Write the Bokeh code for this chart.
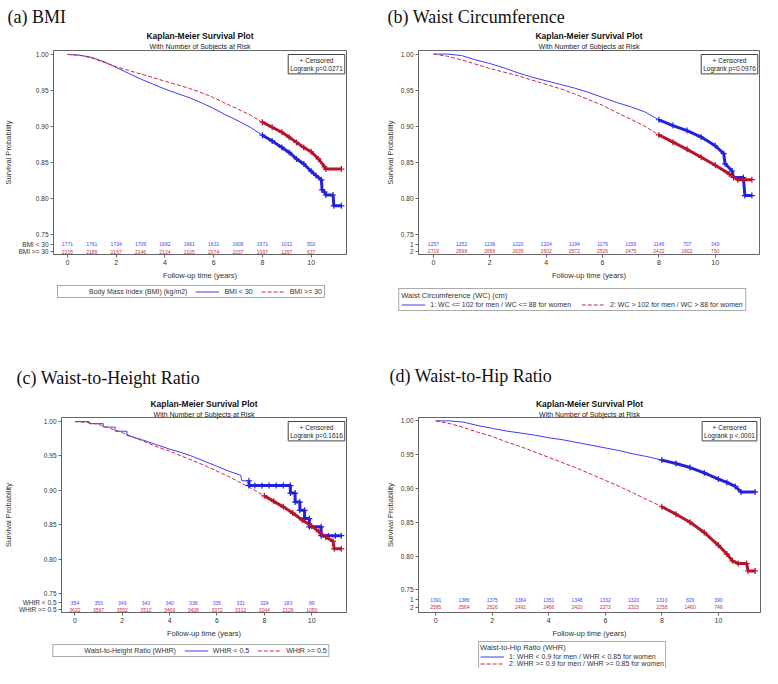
from bokeh.plotting import figure
from bokeh.models import (Range1d, FixedTicker, Title, Label, Legend, LegendItem,
                          NumeralTickFormatter)
from bokeh.layouts import column, row
from bokeh.embed import file_html
from bokeh.resources import INLINE
from bokeh.core.properties import value

# ---------------- data ----------------
years = [0, 1, 2, 3, 4, 5, 6, 7, 8, 9, 10]
x_ticks = [0, 2, 4, 6, 8, 10]
y_ticks = [0.75, 0.80, 0.85, 0.90, 0.95, 1.00]

# (a) BMI
a_t_lo = [0, 0.5, 1.0, 1.5, 2.0, 2.5, 3.0, 3.5, 4.0, 4.5, 5.0, 5.5, 6.0, 6.5, 7.0, 7.5, 8.0, 8.4, 8.8, 9.1,
          9.4, 9.7, 10.0, 10.2, 10.42, 10.45, 10.55, 10.6, 10.9, 10.93, 11.24]
a_s_lo = [1.0, 0.999, 0.996, 0.990, 0.982, 0.974, 0.966, 0.959, 0.952, 0.946, 0.940, 0.933, 0.925, 0.916,
          0.908, 0.899, 0.888, 0.880, 0.871, 0.864, 0.855, 0.848, 0.838, 0.832, 0.826, 0.812, 0.809, 0.805,
          0.805, 0.790, 0.790]
a_t_hi = [0, 0.5, 1.0, 1.5, 2.0, 2.5, 3.0, 3.5, 4.0, 4.5, 5.0, 5.5, 6.0, 6.5, 7.0, 7.5, 8.0, 8.4, 8.8, 9.1,
          9.4, 9.7, 10.0, 10.3, 10.55, 10.6, 11.24]
a_s_hi = [1.0, 0.999, 0.995, 0.989, 0.983, 0.978, 0.973, 0.968, 0.963, 0.958, 0.953, 0.947, 0.940, 0.932,
          0.924, 0.916, 0.906, 0.899, 0.892, 0.885, 0.878, 0.871, 0.865, 0.855, 0.844, 0.841, 0.841]
a_risk_lo = [1771, 1761, 1734, 1709, 1682, 1661, 1631, 1606, 1571, 1012, 502]
a_risk_hi = [2205, 2189, 2167, 2146, 2124, 2105, 2074, 2037, 1997, 1297, 637]

# (b) Waist circumference
b_t_1 = [0, 0.5, 1.0, 1.5, 2.0, 2.5, 3.0, 3.5, 4.0, 4.5, 5.0, 5.5, 6.0, 6.5, 7.0, 7.5, 8.0, 8.5, 9.0, 9.5,
         10.0, 10.3, 10.35, 10.6, 10.65, 11.0, 11.05, 11.3]
b_s_1 = [1.0, 1.0, 0.998, 0.992, 0.987, 0.981, 0.974, 0.968, 0.963, 0.958, 0.953, 0.947, 0.940, 0.933,
         0.927, 0.920, 0.909, 0.901, 0.894, 0.885, 0.873, 0.862, 0.848, 0.838, 0.829, 0.829, 0.804, 0.804]
b_t_2 = [0, 0.5, 1.0, 1.5, 2.0, 2.5, 3.0, 3.5, 4.0, 4.5, 5.0, 5.5, 6.0, 6.5, 7.0, 7.5, 8.0, 8.5, 9.0, 9.5,
         10.0, 10.5, 10.8, 11.3]
b_s_2 = [1.0, 0.997, 0.992, 0.986, 0.980, 0.975, 0.970, 0.964, 0.958, 0.952, 0.945, 0.937, 0.929, 0.919,
         0.910, 0.900, 0.888, 0.878, 0.868, 0.857, 0.846, 0.834, 0.826, 0.826]
b_risk_1 = [1257, 1252, 1236, 1220, 1204, 1194, 1179, 1159, 1146, 707, 349]
b_risk_2 = [2719, 2698, 2666, 2635, 2602, 2572, 2526, 2475, 2422, 1602, 790]

# (c) Waist-to-height ratio
c_t_lo = [0, 0.6, 0.6, 1.2, 1.2, 1.7, 1.7, 2.2, 2.2, 2.8, 3.4, 4.0, 4.5, 5.0, 5.5, 6.0, 6.5, 7.0, 7.05, 7.35,
          7.35, 7.6, 7.9, 8.2, 8.5, 8.8, 9.1, 9.1, 9.3, 9.3, 9.5, 9.5, 9.7, 9.7, 9.9, 9.9, 10.4, 10.4, 10.7,
          11.0, 11.25]
c_s_lo = [1.0, 1.0, 0.997, 0.997, 0.992, 0.992, 0.986, 0.986, 0.980, 0.974, 0.967, 0.960, 0.955, 0.949,
          0.942, 0.935, 0.928, 0.922, 0.914, 0.914, 0.907, 0.907, 0.907, 0.907, 0.907, 0.907, 0.907, 0.896,
          0.896, 0.883, 0.883, 0.871, 0.871, 0.859, 0.859, 0.847, 0.847, 0.834, 0.834, 0.834, 0.834]
c_t_hi = [0, 0.5, 1.0, 1.5, 2.0, 2.5, 3.0, 3.5, 4.0, 4.5, 5.0, 5.5, 6.0, 6.5, 7.0, 7.5, 8.0, 8.4, 8.8, 9.2,
          9.6, 10.0, 10.3, 10.6, 10.9, 10.95, 11.25]
c_s_hi = [1.0, 0.999, 0.996, 0.990, 0.984, 0.977, 0.970, 0.963, 0.957, 0.950, 0.943, 0.936, 0.928, 0.920,
          0.911, 0.902, 0.892, 0.884, 0.876, 0.867, 0.857, 0.848, 0.840, 0.832, 0.826, 0.815, 0.815]
c_risk_lo = [354, 353, 349, 343, 340, 338, 335, 331, 324, 183, 89]
c_risk_hi = [3622, 3597, 3552, 3512, 3466, 3428, 3372, 3312, 3244, 2126, 1050]

# (d) Waist-to-hip ratio
d_t_1 = [0, 0.5, 1.0, 1.5, 2.0, 2.5, 3.0, 3.5, 4.0, 4.5, 5.0, 5.5, 6.0, 6.5, 7.0, 7.5, 8.0, 8.5, 9.0, 9.5,
         10.0, 10.3, 10.6, 10.8, 11.3]
d_s_1 = [1.0, 1.0, 0.998, 0.993, 0.989, 0.985, 0.982, 0.979, 0.975, 0.972, 0.968, 0.964, 0.960, 0.956,
         0.951, 0.947, 0.942, 0.937, 0.931, 0.923, 0.914, 0.909, 0.903, 0.895, 0.895]
d_t_2 = [0, 0.5, 1.0, 1.5, 2.0, 2.5, 3.0, 3.5, 4.0, 4.5, 5.0, 5.5, 6.0, 6.5, 7.0, 7.5, 8.0, 8.5, 9.0, 9.5,
         10.0, 10.3, 10.5, 10.7, 11.0, 11.05, 11.3]
d_s_2 = [1.0, 0.996, 0.990, 0.983, 0.977, 0.969, 0.962, 0.954, 0.946, 0.938, 0.930, 0.921, 0.912, 0.903,
         0.893, 0.883, 0.873, 0.862, 0.850, 0.835, 0.816, 0.803, 0.793, 0.789, 0.789, 0.778, 0.778]
d_risk_1 = [1391, 1386, 1375, 1364, 1351, 1346, 1332, 1320, 1310, 829, 390]
d_risk_2 = [2585, 2564, 2526, 2491, 2466, 2420, 2373, 2323, 2258, 1460, 749]

# ---------------- style ----------------
FONT = "Liberation Sans"
SERIF = "Liberation Serif"
BLUE = "#3c3cff"
BLUE_D = "#2222dd"
RED = "#d0283c"
RED_D = "#b8142c"
BLUE_T = "#4646ff"
RED_T = "#d02c46"
GRAY = "#666666"


def main_fig(cfg):
    p = figure(width=cfg["w"], height=cfg["h"], title=None,
               x_range=Range1d(*cfg["xr"]), y_range=Range1d(*cfg["yr"]),
               toolbar_location=None, output_backend="svg",
               min_border_left=cfg["mb"][0], min_border_right=cfg["mb"][1],
               min_border_top=cfg["mb"][2], min_border_bottom=cfg["mb"][3])
    p.xgrid.visible = False
    p.ygrid.visible = False
    p.outline_line_color = GRAY
    p.background_fill_color = "white"
    p.border_fill_color = "white"

    # titles: first added sits nearest the frame
    p.add_layout(Title(text="With Number of Subjects at Risk", align="center", text_font=FONT,
                       text_font_size="7px", text_font_style="normal", text_color="#222222",
                       standoff=cfg["st"][0]), "above")
    p.add_layout(Title(text="Kaplan-Meier Survival Plot", align="center", text_font=FONT,
                       text_font_size="8.5px", text_font_style="bold", text_color="#111111",
                       standoff=cfg["st"][1]), "above")
    p.add_layout(Title(text=cfg["label"], align="left", offset=cfg["loff"], text_font=SERIF,
                       text_font_size="18px", text_font_style="normal", text_color="#111111",
                       standoff=cfg["st"][2]), "above")

    for ax in (p.xaxis[0], p.yaxis[0]):
        ax.axis_line_color = GRAY
        ax.major_tick_line_color = GRAY
        ax.minor_tick_line_color = None
        ax.major_tick_out = 3
        ax.major_tick_in = 0
        ax.major_label_text_font = FONT
        ax.major_label_text_font_size = "7px"
        ax.major_label_text_color = "#333333"
        ax.major_label_standoff = 2
        ax.axis_label_text_font = FONT
        ax.axis_label_text_font_size = "7.5px"
        ax.axis_label_text_font_style = "normal"
        ax.axis_label_text_color = "#333333"
        ax.axis_label_standoff = 3
    p.yaxis.major_label_text_font_size = "6.5px"
    p.xaxis.ticker = FixedTicker(ticks=x_ticks)
    rows = cfg["rows"]
    p.yaxis.ticker = FixedTicker(ticks=[rows[1], rows[0]] + y_ticks)
    p.yaxis.formatter = NumeralTickFormatter(format="0.00")
    p.yaxis.major_label_overrides = {rows[0]: cfg["names"][0], rows[1]: cfg["names"][1]}
    p.xaxis.axis_label = "Follow-up time (years)"
    p.yaxis.axis_label = "Survival Probability"

    # survival curves
    p.line(cfg["t1"], cfg["s1"], line_color=BLUE, line_width=1)
    p.line(cfg["t2"], cfg["s2"], line_color=RED, line_width=1, line_dash="4 2")
    for t, s, c0, col in ((cfg["t1"], cfg["s1"], cfg["c1"], BLUE_D), (cfg["t2"], cfg["s2"], cfg["c2"], RED_D)):
        tc = [tt for tt in t if tt >= c0]
        sc = [ss for tt, ss in zip(t, s) if tt >= c0]
        p.line(tc, sc, line_color=col, line_width=3)
        p.scatter(tc, sc, marker="cross", size=6, line_color=col, line_width=1.2)

    # numbers at risk
    p.text(x=years, y=[rows[0]] * len(years), text=[str(v) for v in cfg["risk1"]],
           text_font=value(FONT), text_font_size="5px", text_color=BLUE_T,
           text_align="center", text_baseline="middle")
    p.text(x=years, y=[rows[1]] * len(years), text=[str(v) for v in cfg["risk2"]],
           text_font=value(FONT), text_font_size="5px", text_color=RED_T,
           text_align="center", text_baseline="middle")

    # censored / logrank inset
    p.add_layout(Label(x=cfg["xr"][1], y=cfg["yr"][1], x_offset=cfg["boff"], y_offset=-4,
                       text="+ Censored\n" + cfg["logrank"], text_align="center", text_baseline="top",
                       text_font=FONT, text_font_size="6.5px", text_color="#222222",
                       background_fill_color="white", border_line_color="#444444", padding=2))
    return p


def legend_fig(w, h, title, labels, orient, title_inline, spacing, pad, margin):
    f = figure(width=w, height=h, title=None, x_range=Range1d(0, 1), y_range=Range1d(0, 1),
               x_axis_type=None, y_axis_type=None, toolbar_location=None, output_backend="svg",
               min_border=0)
    f.outline_line_color = None
    f.background_fill_color = "white"
    f.border_fill_color = "white"
    # renderers kept outside the visible range: only their legend glyphs are shown
    r1 = f.line([5, 6], [5, 6], line_color=BLUE, line_width=1)
    r2 = f.line([5, 6], [5, 6], line_color=RED, line_width=1, line_dash="4 2")
    items = [LegendItem(label=labels[0], renderers=[r1]), LegendItem(label=labels[1], renderers=[r2])]
    kw = {}
    if title_inline:
        r0 = f.line([5, 6], [5, 6], line_color="white", line_alpha=0)
        items = [LegendItem(label=title, renderers=[r0])] + items
    else:
        kw = dict(title=title, title_text_font=FONT, title_text_font_size="7.5px",
                  title_text_font_style="normal", title_text_color="#333333", title_standoff=1)
    leg = Legend(items=items, location="top", orientation=orient,
                 label_text_font=FONT, label_text_font_size="7px", label_text_color="#333333",
                 glyph_width=24, glyph_height=7, label_height=7, label_standoff=5,
                 spacing=spacing, padding=pad, margin=margin,
                 border_line_color="#555555", border_line_width=1, background_fill_color="white", **kw)
    f.add_layout(leg)
    return f


pa = main_fig(dict(w=382, h=282, xr=(-0.57, 11.45), yr=(0.7224, 1.0055), mb=(25, 36, 50, 27),
                   label="(a) BMI", loff=-46, st=(1, 0, 4),
                   t1=a_t_lo, s1=a_s_lo, t2=a_t_hi, s2=a_s_hi, c1=8.0, c2=8.0,
                   risk1=a_risk_lo, risk2=a_risk_hi, rows=(0.7366, 0.7265), names=("BMI < 30", "BMI >= 30"),
                   boff=-30, logrank="Logrank p=0.0271"))
pb = main_fig(dict(w=380, h=282, xr=(-0.53, 11.57), yr=(0.7223, 1.005), mb=(36, 3, 50, 27),
                   label="(b) Waist Circumference", loff=-31, st=(1, 0, 4),
                   t1=b_t_1, s1=b_s_1, t2=b_t_2, s2=b_s_2, c1=8.0, c2=8.0,
                   risk1=b_risk_1, risk2=b_risk_2, rows=(0.7366, 0.7265), names=("1", "2"),
                   boff=-30, logrank="Logrank p=0.0976"))
pc = main_fig(dict(w=382, h=303, xr=(-0.565, 11.47), yr=(0.7223, 1.006), mb=(33, 36, 80, 27),
                   label="(c) Waist-to-Height Ratio", loff=-45, st=(0, 0, 17),
                   t1=c_t_lo, s1=c_s_lo, t2=c_t_hi, s2=c_s_hi, c1=7.35, c2=8.0,
                   risk1=c_risk_lo, risk2=c_risk_hi, rows=(0.7362, 0.7265), names=("WHtR < 0.5", "WHtR >= 0.5"),
                   boff=-30, logrank="Logrank p=0.1616"))
pd_ = main_fig(dict(w=380, h=303, xr=(-0.61, 11.49), yr=(0.7166, 1.005), mb=(36, 2, 80, 27),
                    label="(d) Waist-to-Hip Ratio", loff=-29, st=(0, 0, 22),
                    t1=d_t_1, s1=d_s_1, t2=d_t_2, s2=d_s_2, c1=8.0, c2=8.0,
                    risk1=d_risk_1, risk2=d_risk_2, rows=(0.7351, 0.7245), names=("1", "2"),
                    boff=-31, logrank="Logrank p <.0001"))

la = legend_fig(382, 55, "Body Mass Index (BMI) (kg/m2)", ("BMI < 30", "BMI >= 30"),
                "horizontal", True, 8, 2, 3)
lb = legend_fig(380, 55, "Waist Circumference (WC) (cm)",
                ("1: WC <= 102 for men / WC <= 88 for women", "2: WC > 102 for men / WC > 88 for women"),
                "horizontal", False, 10, 2, 6)
lc = legend_fig(382, 28, "Waist-to-Height Ratio (WHtR)", ("WHtR < 0.5", "WHtR >= 0.5"),
                "horizontal", True, 8, 2, 4)
ld = legend_fig(380, 28, "Waist-to-Hip Ratio (WHR)",
                ("1: WHR < 0.9 for men / WHR < 0.85 for women", "2: WHR >= 0.9 for men / WHR >= 0.85 for women"),
                "vertical", False, 0, 1, 1)

layout = column(row(pa, pb), row(la, lb), row(pc, pd_), row(lc, ld))
open("out.html", "w").write(file_html(layout, INLINE))
